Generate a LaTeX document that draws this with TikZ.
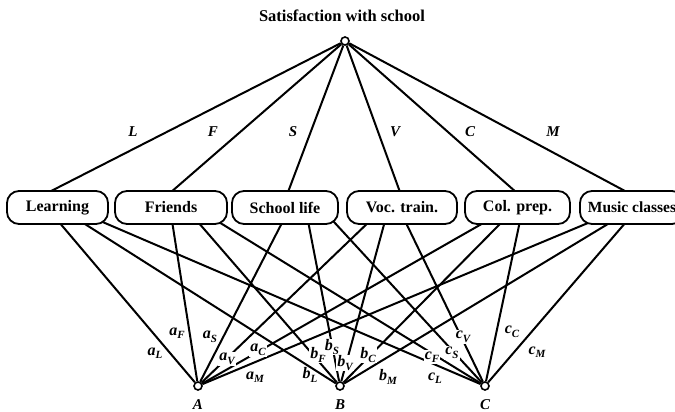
\documentclass[tikz,border=0pt]{standalone}
\usepackage{fontspec}
\setmainfont{Liberation Serif}
\usetikzlibrary{backgrounds}
\newcommand\sublab[2]{{\fontsize{16}{16}\selectfont\bfseries\itshape #1}\raisebox{-3.5pt}{\fontsize{11}{11}\selectfont\bfseries\itshape #2}}
\begin{document}
\begin{tikzpicture}[x=1pt,y=-1pt,
  conn/.style={line width=2pt},
  box/.style={draw, line width=1.8pt, rounded corners=12pt, fill=white, minimum height=33pt, inner sep=0pt, font=\fontsize{16}{16}\selectfont\bfseries},
  dot/.style={circle, draw, line width=1.6pt, fill=white, minimum size=8pt, inner sep=0pt},
  toplab/.style={font=\fontsize{15}{15}\selectfont\bfseries\itshape, inner sep=0pt},
  lab/.style={inner sep=0.5pt},
  onlab/.style={inner sep=1pt, fill=white},
]
\useasboundingbox (0,0) rectangle (675,412);
\node[font=\fontsize{16.5}{16.5}\selectfont\bfseries] (title) at (342,16) {Satisfaction with school};
\node[dot] (top) at (345,41) {};
\node[box, minimum width=101pt] (learn) at (57.5,207.5) {Learning};
\node[box, minimum width=112pt] (friends) at (171,207.5) {Friends};
\node[box, minimum width=106pt] (school) at (285,207.5) {School life};
\node[box, minimum width=110pt] (voc) at (402,207.5) {Voc. train.};
\node[box, minimum width=105pt] (col) at (517.5,207.5) {Col. prep.};
\node[box, minimum width=104pt, font=\fontsize{15.5}{15.5}\selectfont\bfseries] (music) at (632,207.5) {Music classes\hspace{6pt}};
\node[dot] (A) at (198,386) {};
\node[dot] (B) at (340,386) {};
\node[dot] (C) at (485,386) {};
\node[toplab] (Alab) at (198,405) {A};
\node[toplab] (Blab) at (340,405) {B};
\node[toplab] (Clab) at (485,405) {C};
% top labels
\node[toplab] (lL) at (133,132) {L};
\node[toplab] (lF) at (213,132) {F};
\node[toplab] (lS) at (293,132) {S};
\node[toplab] (lV) at (395,132) {V};
\node[toplab] (lC) at (470,132) {C};
\node[toplab] (lM) at (553,132) {M};
\begin{pgfonlayer}{background}
\draw[conn] (top) -- ([xshift=-8.5pt,yshift=-2pt]learn.north);
\draw[conn] (top) -- ([yshift=-2pt]friends.north);
\draw[conn] (top) -- ([xshift=3pt,yshift=-2pt]school.north);
\draw[conn] (top) -- ([xshift=-2pt,yshift=-2pt]voc.north);
\draw[conn] (top) -- ([xshift=-1.5pt,yshift=-2pt]col.north);
\draw[conn] (top) -- ([xshift=-5pt,yshift=-2pt]music.north);
% to A
\draw[conn] ([xshift=0.5pt,yshift=4pt]learn.south) -- (A);
\draw[conn] ([xshift=1pt,yshift=4pt]friends.south) -- (A);
\draw[conn] ([xshift=-2pt,yshift=4pt]school.south) -- (A);
\draw[conn] ([xshift=-32pt,yshift=4pt]voc.south) -- (A);
\draw[conn] ([xshift=-30.5pt,yshift=4pt]col.south) -- (A);
\draw[conn] ([xshift=-39pt,yshift=4pt]music.south) -- (A);
% to B
\draw[conn] ([xshift=22.5pt,yshift=4pt]learn.south) -- (B);
\draw[conn] ([xshift=26pt,yshift=4pt]friends.south) -- (B);
\draw[conn] ([xshift=23pt,yshift=4pt]school.south) -- (B);
\draw[conn] ([xshift=-17pt,yshift=4pt]voc.south) -- (B);
\draw[conn] ([xshift=-14.5pt,yshift=4pt]col.south) -- (B);
\draw[conn] ([xshift=-19pt,yshift=4pt]music.south) -- (B);
% to C
\draw[conn] ([xshift=42.5pt,yshift=4pt]learn.south) -- (C);
\draw[conn] ([xshift=46pt,yshift=4pt]friends.south) -- (C);
\draw[conn] ([xshift=48pt,yshift=4pt]school.south) -- (C);
\draw[conn] ([xshift=3pt,yshift=4pt]voc.south) -- (C);
\draw[conn] ([xshift=2.5pt,yshift=4pt]col.south) -- (C);
\draw[conn] ([xshift=-5pt,yshift=4pt]music.south) -- (C);
\end{pgfonlayer}
% bottom labels
\node[lab] (aL) at (155,353) {\sublab{a}{L}};
\node[lab] (aF) at (177,333) {\sublab{a}{F}};
\node[lab] (aS) at (210,337) {\sublab{a}{S}};
\node[onlab] (aV) at (227,359) {\sublab{a}{V}};
\node[onlab] (aC) at (258,350) {\sublab{a}{C}};
\node[lab] (aM) at (255,377) {\sublab{a}{M}};
\node[lab] (bL) at (310,375) {\sublab{b}{L}};
\node[onlab] (bF) at (318,355) {\sublab{b}{F}};
\node[onlab] (bS) at (332,347) {\sublab{b}{S}};
\node[onlab] (bV) at (345,363) {\sublab{b}{V}};
\node[onlab] (bC) at (368,355) {\sublab{b}{C}};
\node[lab] (bM) at (388,377) {\sublab{b}{M}};
\node[lab] (cL) at (435,378) {\sublab{c}{L}};
\node[onlab] (cF) at (432,357) {\sublab{c}{F}};
\node[onlab] (cS) at (452,353) {\sublab{c}{S}};
\node[onlab] (cV) at (463,337) {\sublab{c}{V}};
\node[lab] (cC) at (512,332) {\sublab{c}{C}};
\node[lab] (cM) at (537,352) {\sublab{c}{M}};
\end{tikzpicture}
\end{document}
